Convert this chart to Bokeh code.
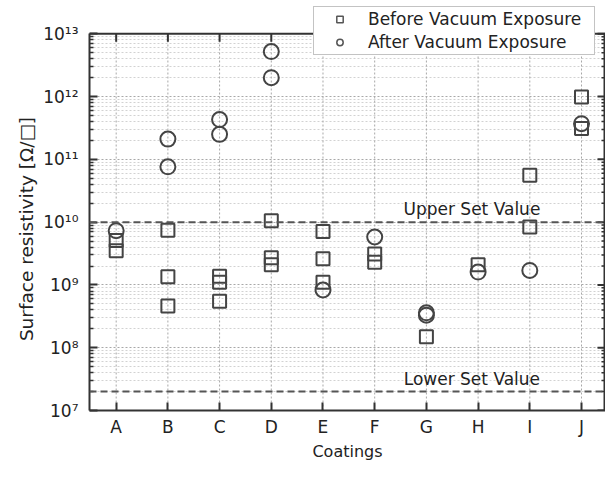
import math
from bokeh.plotting import figure
from bokeh.models import (Range1d, FixedTicker, CustomJSTickFormatter, Title,
                          Span, Legend, LegendItem, ColumnDataSource)
from bokeh.core.properties import value
from bokeh.embed import file_html
from bokeh.resources import INLINE

categories = ["A", "B", "C", "D", "E", "F", "G", "H", "I", "J"]

# Before vacuum exposure: (category, resistivity)
before_cat = ["A", "A", "B", "B", "B", "C", "C", "C", "D", "D", "D",
              "E", "E", "E", "F", "F", "G", "H", "I", "I", "J", "J"]
before_val = [5.1e9, 3.5e9, 7.4e9, 1.35e9, 4.6e8, 1.38e9, 1.1e9, 5.5e8, 1.05e10, 2.7e9, 2.1e9,
              7.1e9, 2.6e9, 1.1e9, 3.1e9, 2.3e9, 1.5e8, 2.1e9, 5.6e10, 8.4e9, 9.8e11, 3.1e11]

# After vacuum exposure
after_cat = ["A", "B", "B", "C", "C", "D", "D", "E", "F", "G", "G", "H", "I", "J"]
after_val = [7.3e9, 2.1e11, 7.6e10, 4.3e11, 2.5e11, 5.2e12, 2.0e12, 8.3e8, 5.8e9,
             3.6e8, 3.3e8, 1.6e9, 1.7e9, 3.7e11]

upper_set = 1e10
lower_set = 2e7
decades = [7, 8, 9, 10, 11, 12, 13]

FONT = "DejaVu Sans"
AX = "#333333"
MK = "#444444"

Y_MIN, Y_MAX = 10.0 ** decades[0], 10.0 ** decades[-1]
X_LO, X_HI = 0.484, 10.464
Y_TOP = 10.0 ** 13.53   # headroom above the axes box for the legend

p = figure(width=605, height=463, output_backend="svg", toolbar_location=None,
           y_axis_type="log", x_range=Range1d(X_LO, X_HI), y_range=Range1d(Y_MIN, Y_TOP),
           min_border_left=89, min_border_right=0, min_border_top=0, min_border_bottom=0)
p.outline_line_color = None
p.background_fill_color = "white"
p.border_fill_color = "white"

cat_idx = {c: i + 1 for i, c in enumerate(categories)}
cat_pos = [cat_idx[c] for c in categories]
bx = [cat_idx[c] for c in before_cat]
ax_ = [cat_idx[c] for c in after_cat]

major = [10.0 ** e for e in decades]
minor = [k * 10.0 ** e for e in decades[:-1] for k in range(2, 10)]
yticker = FixedTicker(ticks=major, minor_ticks=minor)
xticker = FixedTicker(ticks=cat_pos)

sup_js = """
const s = {"0":"\u2070","1":"\u00b9","2":"\u00b2","3":"\u00b3","4":"\u2074","5":"\u2075","6":"\u2076","7":"\u2077","8":"\u2078","9":"\u2079"};
const e = Math.round(Math.log10(tick));
return "10" + String(e).split("").map(c => s[c]).join("");
"""
yfmt = CustomJSTickFormatter(code=sup_js)
xfmt = CustomJSTickFormatter(args=dict(cats=categories), code="return cats[Math.round(tick)-1] || '';")

def style_axis(a):
    a.axis_line_color = AX
    a.axis_line_width = 2
    a.major_tick_line_color = AX
    a.minor_tick_line_color = AX
    a.major_tick_line_width = 2
    a.minor_tick_line_width = 1.5
    a.major_tick_in = 8
    a.major_tick_out = 0
    a.minor_tick_in = 4
    a.minor_tick_out = 0
    a.major_label_text_font = FONT
    a.major_label_text_font_size = "17px"
    a.major_label_text_color = "#222222"
    a.axis_label_text_font = FONT
    a.axis_label_text_font_style = "normal"
    a.axis_label_text_font_size = "16px"
    a.axis_label_text_color = "#222222"

ya = p.yaxis[0]
ya.ticker = yticker
ya.formatter = yfmt
ya.bounds = (Y_MIN, Y_MAX)
style_axis(ya)
ya.major_label_standoff = 11

# y-axis title (trailing no-break spaces centre the visible text on the axes box)
y_title = "Surface resistivity [Ω/□]" + "\u00a0" * 8
p.add_layout(Title(text=y_title, align="center", standoff=8, text_font=FONT,
                   text_font_size="18.5px", text_font_style="normal",
                   text_color="#222222"), "left")

xa = p.xaxis[0]
xa.ticker = xticker
xa.formatter = xfmt
xa.axis_label = "Coatings"
style_axis(xa)
xa.minor_tick_in = 0
xa.major_label_standoff = 6
xa.axis_label_standoff = 2

# grids: horizontal from the log ticker, vertical drawn only inside the axes box
p.xgrid.visible = False
p.ygrid.ticker = yticker
p.ygrid.grid_line_color = "#a8a8a8"
p.ygrid.grid_line_dash = "2 2"
p.ygrid.minor_grid_line_color = "#d2d2d2"
p.ygrid.minor_grid_line_dash = "2 2"
p.segment(x0=cat_pos, y0=[Y_MIN] * len(cat_pos), x1=cat_pos, y1=[Y_MAX] * len(cat_pos),
          line_color="#a8a8a8", line_dash="2 2", line_width=1)

# top and right sides of the axes box with inward ticks
p.add_layout(Span(location=Y_MAX, dimension="width", line_color=AX, line_width=2))
p.segment(x0=[X_HI], y0=[Y_MIN], x1=[X_HI], y1=[Y_MAX], line_color=AX, line_width=4)
p.ray(x=cat_pos, y=[Y_MAX] * len(cat_pos), length=8, length_units="screen",
      angle=-math.pi / 2, line_color=AX, line_width=2)
p.ray(x=[X_HI] * len(major), y=major, length=8, length_units="screen",
      angle=math.pi, line_color=AX, line_width=2)
p.ray(x=[X_HI] * len(minor), y=minor, length=4, length_units="screen",
      angle=math.pi, line_color=AX, line_width=1.5)

# set value lines
p.add_layout(Span(location=upper_set, dimension="width", line_color="#555555",
                  line_width=2, line_dash="7 4"))
p.add_layout(Span(location=lower_set, dimension="width", line_color="#555555",
                  line_width=2, line_dash="7 4"))
p.text(x=[7.88, 7.88], y=[upper_set, lower_set], text=["Upper Set Value", "Lower Set Value"],
       text_font=value(FONT), text_font_size="17px", text_color="#222222",
       text_align="center", text_baseline="middle", y_offset=-13)

# data markers
p.scatter(x=bx, y=before_val, marker="square", size=13, fill_color=None,
          line_color=MK, line_width=2)
p.scatter(x=ax_, y=after_val, marker="circle", size=15, fill_color=None,
          line_color=MK, line_width=2)

# legend proxies (a single NaN point each, so only the legend swatch is drawn)
proxy = ColumnDataSource(data=dict(x=[float("nan")], y=[float("nan")]))
lb = p.scatter(x="x", y="y", source=proxy, marker="square", size=11, fill_color=None,
               line_color="#555555", line_width=1.5)
la = p.scatter(x="x", y="y", source=proxy, marker="circle", size=11, fill_color=None,
               line_color="#555555", line_width=1.5)

legend = Legend(items=[LegendItem(label="Before Vacuum Exposure", renderers=[lb]),
                       LegendItem(label="After Vacuum Exposure", renderers=[la])],
                location=(224, 355), padding=2, spacing=3, glyph_width=47, glyph_height=16,
                label_standoff=5, label_width=224, label_height=18, margin=0,
                label_text_font=FONT, label_text_font_size="17px", label_text_color="#222222",
                label_text_line_height=1.0,
                border_line_color="#888888", border_line_width=1.5,
                background_fill_color="white", background_fill_alpha=1.0)
p.add_layout(legend, "center")

open("out.html", "w").write(file_html(p, INLINE))
